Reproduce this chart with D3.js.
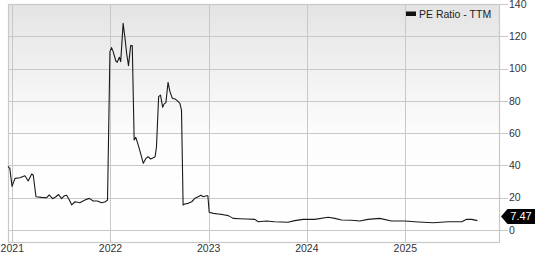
<!DOCTYPE html>
<html>
<head>
<meta charset="utf-8">
<script src="https://cdn.jsdelivr.net/npm/d3@7"></script>
<style>
  html, body { margin: 0; padding: 0; background: #fff; }
  svg { display: block; font-family: "Liberation Sans", Arial, Helvetica, sans-serif; }
</style>
</head>
<body>
<svg id="chart" width="535" height="253"></svg>
<script>
const dates = [
  "2020-12-16","2020-12-23","2020-12-31","2021-01-11","2021-01-29","2021-02-17","2021-03-01","2021-03-14","2021-03-20","2021-03-30",
  "2021-04-20","2021-05-09","2021-05-18","2021-05-31","2021-06-12","2021-06-22","2021-07-03","2021-07-13","2021-07-22","2021-08-01",
  "2021-08-10","2021-08-22","2021-09-09","2021-09-28","2021-10-14","2021-10-29","2021-11-13","2021-11-29","2021-12-11","2021-12-21",
  "2021-12-30","2022-01-05","2022-01-11","2022-01-21","2022-01-26","2022-02-03","2022-02-08","2022-02-17","2022-02-24","2022-03-02",
  "2022-03-09","2022-03-17","2022-03-23","2022-03-30","2022-04-05","2022-04-14","2022-04-23","2022-05-03","2022-05-13","2022-05-21",
  "2022-05-30","2022-06-09","2022-06-16","2022-06-21","2022-06-29","2022-07-06","2022-07-14","2022-07-19","2022-07-26","2022-08-03",
  "2022-08-10","2022-08-19","2022-08-29","2022-09-06","2022-09-16","2022-09-22","2022-09-28","2022-10-04","2022-10-17","2022-10-30",
  "2022-11-11","2022-11-23","2022-12-03","2022-12-12","2022-12-24","2022-12-29","2023-01-03","2023-01-18","2023-02-06","2023-02-24",
  "2023-03-15","2023-04-02","2023-04-27","2023-05-22","2023-06-22","2023-07-04","2023-08-04","2023-09-03","2023-10-23","2023-11-17",
  "2023-12-18","2024-01-30","2024-03-20","2024-04-14","2024-05-09","2024-06-15","2024-07-16","2024-08-15","2024-09-28","2024-11-11",
  "2024-12-31","2025-02-18","2025-04-15","2025-06-10","2025-07-30","2025-08-17","2025-09-05","2025-09-26"
];
const peValues = [
  39.5, 38, 27, 32, 32.4, 33.6, 30.4, 34.7, 33.9, 20.6,
  20.2, 20, 21.7, 19.4, 20.6, 22, 19.4, 21.2, 21.5, 18.6,
  15.5, 17.5, 16.9, 18.6, 19.6, 18, 18, 16.9, 17.3, 18.6,
  110.5, 113, 110.5, 104.7, 103.9, 107, 104.3, 128, 118.8, 109.5,
  101.8, 114.2, 114.2, 55.8, 57.4, 52.7, 47.5, 41.3, 44.4, 45.4,
  44, 44.8, 45.4, 51.6, 82.6, 83.6, 76, 78, 78.9, 91.5,
  85.7, 81.6, 81.2, 80.1, 78.5, 74.3, 15.5, 16.1, 16.5, 17.5,
  19.6, 20.6, 21.5, 20.6, 21.2, 21.2, 11, 10.3, 9.9, 9.5,
  8.9, 7.2, 7, 6.8, 6.6, 5.1, 5.6, 5.1, 4.8, 5.8,
  6.6, 6.6, 7.9, 7.2, 6.2, 6, 5.6, 6.6, 7.2, 5.6,
  5.6, 5, 4.5, 5.1, 5.1, 6.6, 6.6, 5.8
];
const yearTicks = ["2021","2022","2023","2024","2025"];
const yTicks = [0, 20, 40, 60, 80, 100, 120, 140];
const seriesName = "PE Ratio - TTM";
const lastValue = 7.47;

const parse = d3.timeParse("%Y-%m-%d");
const data = dates.map((d, i) => ({ date: parse(d), value: peValues[i] }));

const svg = d3.select("#chart");
const plot = { left: 8, right: 500, top: 4, bottom: 243 };

const x = d3.scaleTime()
  .domain([new Date(2021, 0, 1), new Date(2025, 0, 1)])
  .range([12.3, 405.3]);
const y = d3.scaleLinear()
  .domain([-8.05, 140])
  .range([plot.bottom, plot.top]);

// background gradient
const defs = svg.append("defs");
const grad = defs.append("linearGradient").attr("id", "bg").attr("x1", 0).attr("y1", 0).attr("x2", 0).attr("y2", 1);
grad.append("stop").attr("offset", "0%").attr("stop-color", "#e4e4e4");
grad.append("stop").attr("offset", "55%").attr("stop-color", "#fdfdfd");
grad.append("stop").attr("offset", "100%").attr("stop-color", "#ffffff");

svg.append("rect")
  .attr("x", plot.left).attr("y", plot.top)
  .attr("width", plot.right - plot.left).attr("height", plot.bottom - plot.top)
  .attr("fill", "url(#bg)");

// horizontal grid
svg.append("g").selectAll("line").data(yTicks).join("line")
  .attr("x1", plot.left).attr("x2", plot.right + 8)
  .attr("y1", d => Math.round(y(d)) + 0.5).attr("y2", d => Math.round(y(d)) + 0.5)
  .attr("stroke", "#c8c8c8").attr("stroke-width", 1);

// vertical grid
svg.append("g").selectAll("line").data(yearTicks).join("line")
  .attr("x1", d => Math.round(x(new Date(+d, 0, 1))) + 0.5)
  .attr("x2", d => Math.round(x(new Date(+d, 0, 1))) + 0.5)
  .attr("y1", plot.top).attr("y2", plot.bottom)
  .attr("stroke", "#c8c8c8").attr("stroke-width", 1);

// plot border
svg.append("rect")
  .attr("x", plot.left + 0.5).attr("y", plot.top + 0.5)
  .attr("width", plot.right - plot.left - 1).attr("height", plot.bottom - plot.top - 1)
  .attr("fill", "none").attr("stroke", "#c8c8c8").attr("stroke-width", 1.2);

// y axis labels
svg.append("g").selectAll("text").data(yTicks).join("text")
  .attr("x", 509).attr("y", d => y(d)).attr("dy", "0.36em")
  .attr("font-size", "10.5px").attr("fill", "#333")
  .text(d => d);

// x axis labels
svg.append("g").selectAll("text").data(yearTicks).join("text")
  .attr("x", d => Math.max(11, x(new Date(+d, 0, 1))))
  .attr("y", 252)
  .attr("text-anchor", "middle")
  .attr("font-size", "10.5px").attr("fill", "#333")
  .text(d => d);

// line
const line = d3.line().x(d => x(d.date)).y(d => y(d.value));
svg.append("path").datum(data)
  .attr("d", line)
  .attr("fill", "none").attr("stroke", "#1a1a1a").attr("stroke-width", 1.1)
  .attr("stroke-linejoin", "round");

// legend
svg.append("rect").attr("x", 406).attr("y", 11.5).attr("width", 10).attr("height", 4.5).attr("fill", "#111");
svg.append("text").attr("x", 419).attr("y", 14).attr("dy", "0.36em")
  .attr("font-size", "10.5px").attr("fill", "#222").text(seriesName);

// last value label
const yv = y(lastValue) - 1.5;
svg.append("path")
  .attr("d", `M501,${yv} L507.5,${yv - 7.5} L535,${yv - 7.5} L535,${yv + 7.5} L507.5,${yv + 7.5} Z`)
  .attr("fill", "#000");
svg.append("text").attr("x", 521).attr("y", yv).attr("dy", "0.36em")
  .attr("text-anchor", "middle")
  .attr("font-size", "11px").attr("fill", "#fff").text(lastValue.toFixed(2));
</script>
</body>
</html>
